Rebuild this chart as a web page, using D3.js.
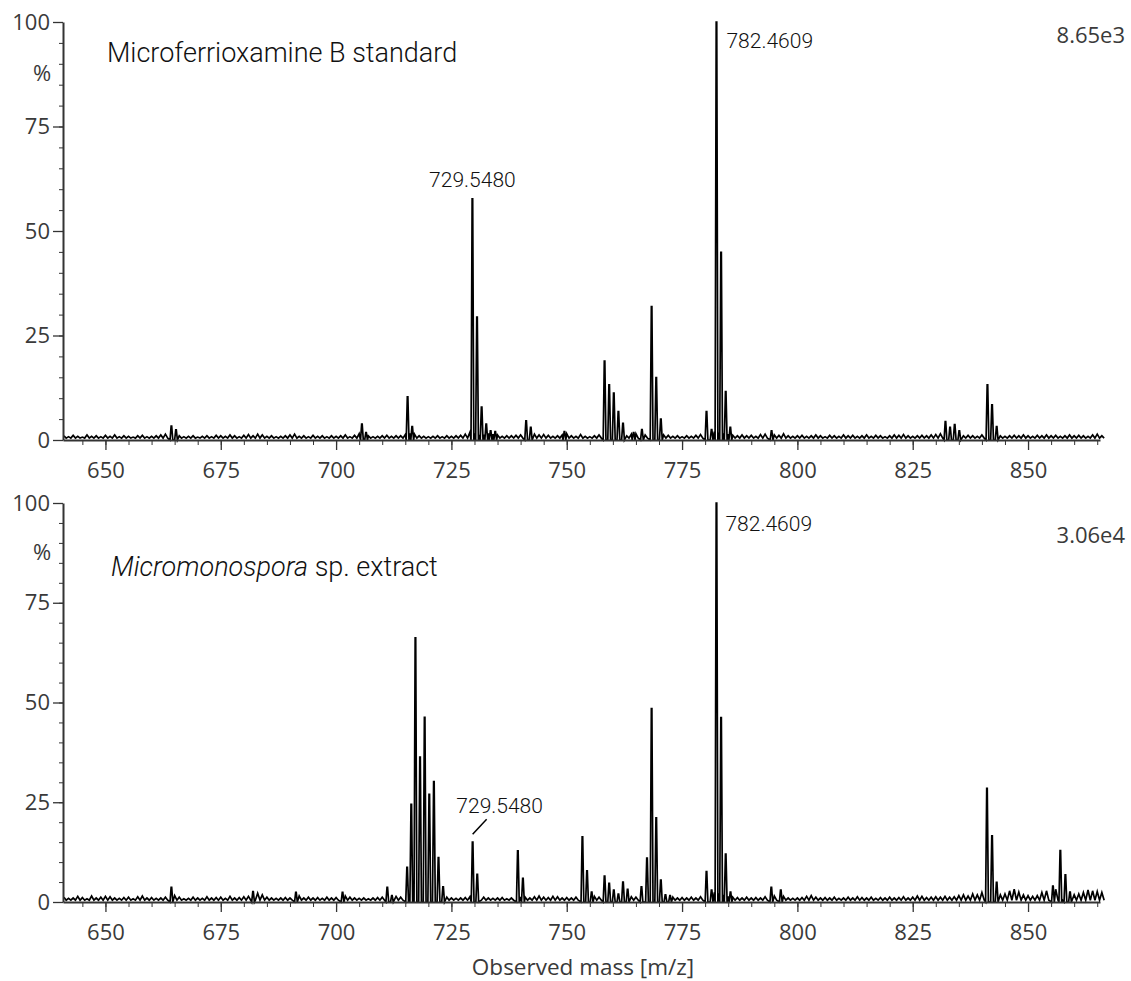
<!DOCTYPE html>
<html>
<head>
<meta charset="utf-8">
<script src="https://cdn.jsdelivr.net/npm/d3@7"></script>
<style>
    body { margin: 0; background: #fff; }
    .axis path, .axis line { stroke: #333; }
    .axis text { font-family: "Open Sans", sans-serif; font-size: 22px; fill: #3a3a3a; }
    .annot { font-family: Roboto, "Helvetica Neue", sans-serif; font-weight: 300; fill: #111; }
</style>
</head>
<body>
<div id="chart"></div>
<script>
// m/z window and tick values
var mzDomain = [640.8, 865.6];
var xMajorTicks = [650, 675, 700, 725, 750, 775, 800, 825, 850];
var yMajorTicks = [0, 25, 50, 75, 100];
var noiseStart = 641;

// Top: Microferrioxamine B standard, peaks as [m/z, % intensity]
var stdPeaks = [
    [664.3, 3.3], [665.3, 2.4], [705.6, 3.8], [706.5, 1.8], [715.5, 10.3], [716.5, 3.2],
    [729.55, 57.7], [730.55, 29.4], [731.55, 7.9], [732.55, 3.8], [733.5, 2.2], [734.5, 2.0],
    [741.2, 4.6], [742.2, 3.0], [749.5, 2.0], [758.2, 18.9], [759.2, 13.2], [760.2, 11.2],
    [761.2, 6.8], [762.2, 4.0], [764.5, 1.8], [766.3, 2.5], [768.4, 31.9], [769.4, 14.9],
    [770.4, 5.0], [780.3, 6.8], [781.4, 2.5], [782.46, 100], [783.46, 44.9], [784.46, 11.6],
    [785.46, 3.0], [794.4, 2.2], [832.1, 4.4], [833.1, 3.0], [834.1, 3.7], [835.1, 2.2],
    [841.2, 13.2], [842.2, 8.4], [843.2, 3.2]
];
// baseline noise, one value per m/z from 641 to 866
var stdNoise = [
    1.0, 0.8, 1.1, 0.9, 0.7, 1.2, 0.9, 1.0, 0.8, 1.1,
    0.9, 1.2, 0.8, 1.0, 0.9, 0.7, 1.0, 1.1, 0.8, 0.9,
    1.0, 1.2, 1.4, 1.5, 1.3, 1.0, 0.8, 0.9, 1.0, 0.7,
    0.9, 1.0, 0.8, 1.1, 1.0, 0.9, 1.2, 1.0, 0.8, 1.1,
    1.3, 1.0, 1.4, 1.2, 0.9, 1.0, 0.8, 0.9, 1.0, 1.2,
    1.4, 0.9, 1.0, 0.8, 1.1, 0.9, 1.0, 0.8, 1.0, 0.9,
    1.0, 1.2, 0.8, 1.1, 1.5, 1.6, 1.0, 0.8, 0.9, 1.0,
    1.1, 0.9, 1.0, 1.0, 1.3, 1.6, 1.4, 1.0, 0.9, 0.8,
    0.9, 1.0, 0.8, 1.0, 0.9, 1.0, 1.1, 1.4, 1.8, 1.6,
    1.2, 1.3, 1.6, 1.4, 1.2, 0.9, 1.0, 1.0, 1.1, 1.2,
    1.6, 1.5, 1.4, 1.2, 1.3, 1.1, 0.9, 1.0, 1.2, 1.5,
    1.0, 0.9, 1.3, 0.9, 0.8, 1.0, 1.2, 1.4, 1.6, 1.5,
    1.4, 1.2, 1.0, 1.4, 1.5, 1.7, 1.2, 1.6, 1.5, 1.3,
    1.2, 1.1, 0.9, 1.0, 0.8, 1.0, 0.9, 1.1, 1.3, 1.6,
    1.8, 2.0, 1.8, 1.6, 1.4, 1.1, 1.0, 1.2, 1.0, 1.1,
    0.9, 1.3, 1.4, 1.6, 1.2, 1.1, 1.5, 1.0, 0.9, 1.0,
    1.1, 0.9, 1.0, 1.2, 1.0, 0.8, 1.1, 1.0, 0.9, 1.2,
    1.0, 1.1, 0.9, 1.0, 1.2, 0.9, 1.1, 1.0, 0.8, 1.0,
    1.2, 1.1, 1.3, 1.0, 0.9, 1.0, 1.1, 1.0, 1.2, 1.3,
    1.5, 1.6, 1.4, 1.6, 1.3, 1.0, 1.1, 1.0, 0.9, 1.2,
    1.6, 1.4, 1.3, 1.0, 0.9, 1.0, 1.1, 1.0, 1.2, 1.0,
    0.9, 1.1, 1.0, 1.2, 1.0, 1.1, 0.9, 1.0, 1.2, 1.0,
    1.1, 1.0, 0.9, 1.2, 1.4, 1.0
];

// Bottom: Micromonospora sp. extract
var extPeaks = [
    [664.3, 3.7], [682.0, 2.6], [691.3, 2.4], [701.4, 2.4], [711.1, 3.7], [712.1, 1.6],
    [715.4, 8.7], [716.3, 24.5], [717.2, 66.2], [718.2, 36.3], [719.2, 46.3], [720.2, 27.0],
    [721.2, 30.2], [722.2, 11.1], [723.2, 3.8], [729.6, 15.0], [730.6, 6.9], [739.4, 12.8],
    [740.5, 5.9], [753.4, 16.3], [754.4, 7.8], [755.4, 2.5], [758.2, 6.5], [759.2, 4.7],
    [760.2, 3.0], [761.2, 2.0], [762.2, 5.0], [763.2, 3.2], [766.2, 3.8], [767.4, 11.0],
    [768.4, 48.5], [769.4, 21.1], [770.4, 5.5], [771.4, 1.8], [772.4, 1.6], [780.3, 7.6],
    [781.4, 3.0], [782.46, 100], [783.46, 46.2], [784.46, 12.0], [785.5, 2.5], [794.35, 3.7],
    [796.4, 3.0], [841.1, 28.5], [842.2, 16.6], [843.2, 4.9], [855.4, 4.0], [857.0, 12.9],
    [858.1, 6.8], [859.1, 2.5]
];
var extNoise = [
    1.2, 0.9, 1.0, 1.4, 1.1, 0.8, 1.5, 1.0, 1.2, 1.4,
    1.3, 1.0, 0.9, 1.1, 1.2, 0.8, 1.3, 1.5, 1.0, 1.1,
    0.9, 1.0, 1.2, 1.5, 1.6, 1.2, 0.8, 0.9, 1.2, 1.0,
    0.9, 1.3, 1.0, 1.1, 1.2, 0.9, 1.4, 1.0, 1.1, 1.3,
    1.4, 2.0, 2.2, 1.8, 1.2, 1.0, 0.9, 1.0, 1.1, 1.0,
    1.3, 1.5, 1.0, 1.2, 1.0, 1.1, 0.9, 1.2, 1.0, 1.1,
    1.6, 1.5, 1.2, 1.0, 0.9, 1.0, 0.8, 1.0, 1.1, 1.2,
    1.5, 1.8, 1.4, 1.2, 1.6, 2.0, 2.2, 2.0, 2.0, 1.8,
    1.6, 1.5, 1.4, 1.2, 1.0, 0.9, 1.0, 1.1, 1.3, 1.5,
    1.5, 1.2, 1.0, 0.9, 1.0, 1.1, 0.8, 1.0, 1.2, 1.3,
    1.2, 1.0, 1.3, 1.5, 1.2, 1.1, 1.4, 1.3, 1.0, 1.1,
    1.0, 1.2, 1.4, 1.5, 1.6, 1.4, 1.2, 1.5, 1.6, 1.4,
    1.5, 1.6, 1.4, 1.3, 1.2, 1.6, 2.2, 2.8, 2.5, 1.8,
    1.5, 1.4, 1.2, 1.0, 1.1, 1.0, 1.2, 1.0, 1.3, 1.8,
    2.0, 2.4, 2.2, 1.8, 1.4, 1.2, 1.1, 1.0, 1.2, 1.0,
    1.1, 1.0, 1.3, 1.6, 1.5, 1.5, 1.4, 1.0, 0.9, 1.0,
    1.1, 1.4, 1.6, 1.2, 1.0, 1.1, 1.0, 1.2, 0.9, 1.0,
    1.2, 1.0, 1.3, 1.1, 1.0, 1.2, 0.9, 1.1, 1.0, 1.2,
    1.0, 1.1, 1.3, 1.0, 1.2, 1.5, 1.4, 1.1, 1.2, 1.3,
    1.2, 1.4, 1.2, 1.3, 1.6, 1.8, 1.5, 2.0, 1.8, 2.4,
    2.6, 2.4, 2.0, 1.8, 2.0, 2.8, 3.2, 2.5, 1.8, 1.6,
    1.4, 1.6, 2.4, 2.8, 3.0, 3.2, 2.6, 2.5, 2.2, 1.8,
    2.0, 2.4, 3.0, 2.8, 2.6, 2.4
];

var width = 1131, height = 981;

var svg = d3.select("#chart")
    .append("svg")
    .attr("width", width)
    .attr("height", height);

// shared m/z scale
var x = d3.scaleLinear()
    .domain(mzDomain)
    .range([63, 1100]);

drawPanel({
    top: 22, bottom: 440,
    peaks: stdPeaks, noise: stdNoise,
    scale: "8.65e3", scaleY: 43,
    title: [{ t: "Microferrioxamine B standard", italic: false }],
    titleX: 107, titleY: 62,
    labels: [
        { mz: 782.46, text: "782.4609", dx: 10, dy: 26, anchor: "start", ref: "top" },
        { mz: 729.55, text: "729.5480", dx: 0, dy: -12, anchor: "middle", ref: "peak" }
    ]
});

drawPanel({
    top: 503, bottom: 902,
    peaks: extPeaks, noise: extNoise,
    scale: "3.06e4", scaleY: 543,
    title: [{ t: "Micromonospora", italic: true }, { t: " sp. extract", italic: false }],
    titleX: 111, titleY: 576,
    labels: [
        { mz: 782.46, text: "782.4609", dx: 9, dy: 28, anchor: "start", ref: "top" },
        { mz: 729.6, text: "729.5480", dx: 27, dy: -29, anchor: "middle", ref: "peak", leader: true }
    ]
});

// X axis title
svg.append("text")
    .attr("x", 583)
    .attr("y", 975)
    .attr("text-anchor", "middle")
    .style("font-family", "'Open Sans', sans-serif")
    .style("font-size", "22.5px")
    .style("fill", "#3a3a3a")
    .text("Observed mass [m/z]");

// profile trace: noise drawn as a tight zigzag, peaks as narrow spikes
function buildTrace(peaks, noise) {
    var floor = 0.45;
    var pts = [];
    noise.forEach(function(v, i) {
        var mz = noiseStart + i;
        [[mz, v], [mz + 0.5, floor]].forEach(function(p) {
            var near = peaks.some(function(k) { return Math.abs(k[0] - p[0]) < 0.45; });
            if (!near) pts.push(p);
        });
    });
    peaks.forEach(function(p) {
        pts.push([p[0] - 0.3, 0], [p[0] - 0.06, p[1]], [p[0] + 0.06, p[1]], [p[0] + 0.3, 0]);
    });
    pts.sort(function(a, b) { return a[0] - b[0]; });
    return pts;
}

function drawPanel(cfg) {
    var y = d3.scaleLinear()
        .domain([0, 100])
        .range([cfg.bottom, cfg.top]);

    var g = svg.append("g");

    // spectrum trace
    var line = d3.line()
        .x(function(d) { return x(d[0]); })
        .y(function(d) { return y(d[1]); });

    g.append("path")
        .datum(buildTrace(cfg.peaks, cfg.noise))
        .attr("d", line)
        .attr("fill", "none")
        .attr("stroke", "#000")
        .attr("stroke-width", 1.7)
        .attr("stroke-linejoin", "miter");

    // minor ticks every 5
    g.append("g")
        .attr("class", "axis")
        .attr("transform", "translate(63,0)")
        .call(d3.axisLeft(y).tickValues(d3.range(0, 101, 5)).tickSize(4).tickFormat(""))
        .call(function(a) { a.select(".domain").remove(); });

    g.append("g")
        .attr("class", "axis")
        .attr("transform", "translate(0," + cfg.bottom + ")")
        .call(d3.axisBottom(x).tickValues(d3.range(645, 866, 5)).tickSize(5).tickFormat(""))
        .call(function(a) { a.select(".domain").remove(); });

    // major axes
    var yAxis = g.append("g")
        .attr("class", "axis")
        .attr("transform", "translate(63,0)")
        .call(d3.axisLeft(y).tickValues(yMajorTicks).tickSize(10).tickSizeOuter(0).tickPadding(3));
    yAxis.select(".domain").attr("stroke-width", 2);
    yAxis.selectAll(".tick line").attr("stroke-width", 1.3);

    var xAxis = g.append("g")
        .attr("class", "axis")
        .attr("transform", "translate(0," + cfg.bottom + ")")
        .call(d3.axisBottom(x).tickValues(xMajorTicks).tickSize(10).tickSizeOuter(0).tickPadding(12));
    xAxis.select(".domain").attr("stroke-width", 2);
    xAxis.selectAll(".tick line").attr("stroke-width", 1.3);

    // % label
    g.append("text")
        .attr("x", 42)
        .attr("y", y(87.5) + 7)
        .attr("text-anchor", "middle")
        .style("font-family", "'Open Sans', sans-serif")
        .style("font-size", "22px")
        .style("fill", "#3a3a3a")
        .text("%");

    // intensity of base peak
    g.append("text")
        .attr("x", 1125)
        .attr("y", cfg.scaleY)
        .attr("text-anchor", "end")
        .style("font-family", "'Open Sans', sans-serif")
        .style("font-size", "22px")
        .style("fill", "#3a3a3a")
        .text(cfg.scale);

    // panel title
    var title = g.append("text")
        .attr("class", "annot")
        .attr("x", cfg.titleX)
        .attr("y", cfg.titleY)
        .style("font-size", "27px");
    cfg.title.forEach(function(s) {
        title.append("tspan")
            .style("font-style", s.italic ? "italic" : "normal")
            .text(s.t);
    });

    // peak labels
    cfg.labels.forEach(function(l) {
        var peak = cfg.peaks.find(function(p) { return p[0] === l.mz; });
        var baseY = l.ref === "top" ? y(100) : y(peak[1]);
        g.append("text")
            .attr("class", "annot")
            .attr("x", x(l.mz) + l.dx)
            .attr("y", baseY + l.dy)
            .attr("text-anchor", l.anchor)
            .style("font-size", "21px")
            .text(l.text);
        if (l.leader) {
            g.append("line")
                .attr("x1", x(l.mz))
                .attr("y1", baseY - 8)
                .attr("x2", x(l.mz) + 14)
                .attr("y2", baseY - 23)
                .attr("stroke", "#000")
                .attr("stroke-width", 1.5);
        }
    });
}
</script>
</body>
</html>
